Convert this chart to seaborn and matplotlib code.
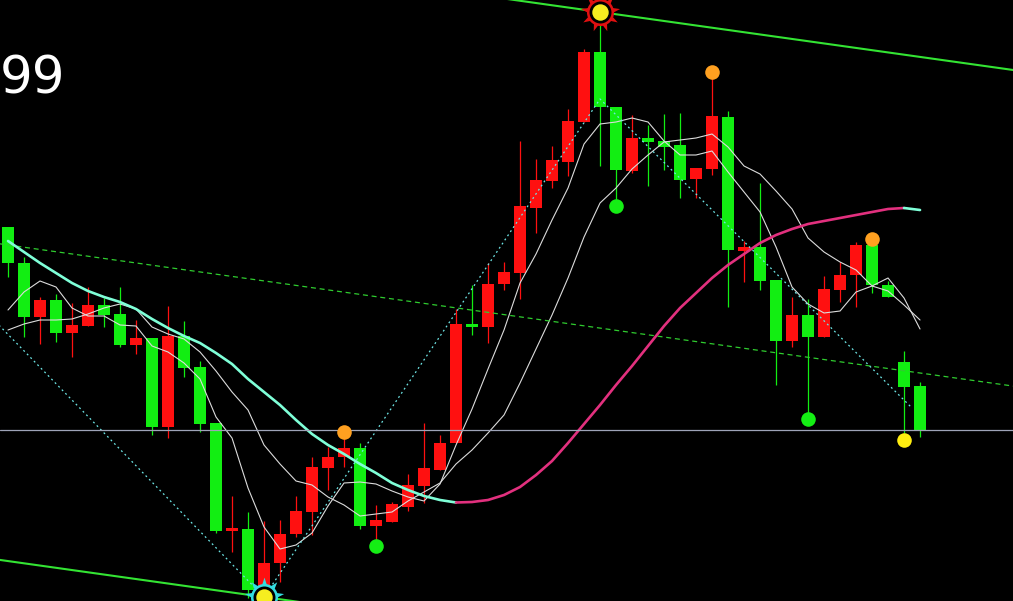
import matplotlib
matplotlib.use("Agg")
import matplotlib.pyplot as plt
import numpy as np
import pandas as pd
import seaborn as sns

# daily bars (price units), oldest first
opens = [37.3, 33.7, 28.3, 30.0, 26.7, 27.4, 29.5, 28.6, 25.5, 26.2,
         17.3, 26.4, 23.3, 17.7, 6.9, 7.1, 0.7, 3.7, 6.6, 8.8,
         13.2, 14.3, 15.2, 7.4, 7.8, 9.3, 11.4, 13.0, 15.7, 27.6,
         27.3, 31.6, 32.7, 39.2, 41.9, 43.8, 47.8, 54.8, 49.3, 42.9,
         46.2, 45.9, 45.5, 42.1, 43.1, 48.3, 34.9, 35.3, 32.0, 25.9,
         28.5, 26.3, 31.0, 32.5, 35.5, 31.5, 23.8, 21.4]
highs = [37.3, 34.3, 30.3, 30.6, 29.7, 31.3, 30.2, 31.3, 28.0, 26.2,
         29.4, 27.9, 23.9, 17.7, 10.4, 8.8, 7.9, 8.0, 10.4, 14.3,
         15.3, 16.2, 15.7, 9.5, 9.8, 12.6, 17.7, 16.5, 29.1, 31.5,
         33.7, 33.8, 45.9, 44.1, 45.4, 49.1, 55.1, 58.8, 49.3, 48.5,
         47.5, 48.6, 48.7, 43.2, 52.2, 48.9, 35.9, 41.7, 32.0, 30.3,
         30.1, 32.4, 33.8, 35.8, 35.5, 31.9, 24.9, 21.8]
lows = [32.3, 26.3, 25.6, 25.8, 24.3, 27.4, 27.3, 25.3, 24.6, 16.5,
        16.2, 22.3, 16.8, 6.7, 4.8, 0.2, 0.3, 1.8, 6.3, 6.5,
        11.0, 13.3, 7.1, 6.0, 7.8, 8.9, 9.7, 13.0, 15.7, 26.5,
        25.7, 31.0, 30.1, 36.7, 41.2, 42.4, 47.8, 43.4, 40.0, 42.7,
        41.4, 43.0, 40.2, 40.2, 42.5, 29.3, 31.8, 31.0, 21.5, 25.3,
        18.7, 26.3, 29.8, 29.3, 30.7, 30.3, 16.7, 16.3]
closes = [33.7, 28.3, 30.0, 26.7, 27.5, 29.5, 28.5, 25.5, 26.2, 17.3,
          26.4, 23.2, 17.6, 6.9, 7.1, 1.0, 3.7, 6.6, 8.9, 13.3,
          14.3, 15.2, 7.4, 8.0, 9.6, 11.5, 13.2, 15.7, 27.6, 27.3,
          31.6, 32.8, 39.4, 42.0, 44.0, 47.9, 54.8, 49.3, 43.0, 46.2,
          45.8, 45.3, 42.0, 43.2, 48.4, 35.0, 35.3, 31.9, 25.9, 28.5,
          26.3, 31.1, 32.5, 35.5, 31.5, 30.3, 21.3, 17.0]

ma5 = [29.0, 30.8, 31.9, 31.3, 29.2, 28.4, 28.4, 27.5, 27.4, 25.4,
       24.8, 23.7, 22.1, 18.3, 16.2, 11.2, 7.3, 5.1, 5.5, 6.7,
       9.4, 11.7, 11.8, 11.6, 10.9, 10.3, 9.9, 11.6, 15.5, 19.1,
       23.1, 27.0, 31.7, 34.6, 38.0, 41.2, 45.6, 47.6, 47.8, 48.2,
       47.8, 45.9, 44.5, 44.5, 44.9, 42.8, 40.8, 38.8, 35.3, 31.3,
       29.6, 28.7, 28.9, 30.8, 31.4, 32.2, 30.2, 27.1]
ma10 = [27.0, 27.6, 28.0, 28.0, 28.1, 28.6, 29.2, 29.6, 29.1, 27.3,
        26.6, 26.1, 24.8, 22.9, 20.8, 19.0, 15.5, 13.6, 11.9, 11.5,
        10.3, 9.5, 8.4, 8.6, 8.8, 9.9, 10.8, 11.7, 13.6, 15.0,
        16.7, 18.5, 21.7, 25.1, 28.5, 32.2, 36.3, 39.7, 41.2, 43.1,
        44.5, 45.8, 46.0, 46.2, 46.6, 45.3, 43.4, 42.6, 40.9, 39.1,
        36.2, 34.8, 33.8, 33.0, 31.4, 30.9, 29.5, 28.0]
ma_long = [35.9, 34.8, 33.7, 32.7, 31.7, 30.9, 30.3, 29.8, 29.1, 28.1,
           27.2, 26.4, 25.7, 24.7, 23.6, 22.1, 20.8, 19.5, 18.0, 16.6,
           15.5, 14.6, 13.6, 12.7, 11.7, 11.0, 10.4, 10.0, 9.75, 9.8,
           10.0, 10.5, 11.3, 12.5, 13.9, 15.7, 17.6, 19.5, 21.5, 23.4,
           25.4, 27.4, 29.2, 30.7, 32.2, 33.5, 34.6, 35.7, 36.5, 37.1,
           37.6, 37.9, 38.2, 38.5, 38.8, 39.1, 39.2, 39.0]

orange_bars = [21, 44, 54]   # dot above the high
green_bars = [23, 38, 50]    # dot below the low
yellow_bars = [56]
top_pivot = 37
bottom_pivot = 16

ref_level = 17.0
channel_slope = -0.2246
zigzag_x = [-1, 16, 37, 56.5]
zigzag_y = [28.2, 0.3, 50.1, 19.2]

RED = "#ff1010"
GREEN = "#12ee12"

sns.set_style("dark", {"axes.facecolor": "black", "figure.facecolor": "black"})

fig = plt.figure(figsize=(10.13, 6.01), dpi=100)
ax = fig.add_axes([0, 0, 1, 1])
ax.set_facecolor("black")

idx = np.arange(len(opens))
o = np.array(opens)
c = np.array(closes)
cols = np.where(c >= o, RED, GREEN)

# candles
ax.vlines(idx, lows, highs, colors=cols, lw=0.9, zorder=2)
body = np.maximum(np.abs(c - o), 0.3)
ax.bar(idx, body, bottom=np.minimum(o, c), width=0.7, color=cols,
       linewidth=0, zorder=2.1)

# moving averages
df = pd.DataFrame({"bar": idx, "ma5": ma5, "ma10": ma10, "ma_long": ma_long})
sns.lineplot(data=df, x="bar", y="ma5", color="#dcdcdc", lw=0.8, ax=ax, zorder=3)
sns.lineplot(data=df, x="bar", y="ma10", color="#dcdcdc", lw=0.8, ax=ax, zorder=3)

# long average: cyan while falling, pink while rising
ml = np.array(ma_long)
rising = np.diff(ml) > 0
start = 0
for k in range(1, len(rising) + 1):
    if k == len(rising) or rising[k] != rising[start]:
        seg = df.iloc[start:k + 1]
        col = "#e2307e" if rising[start] else "#7fffd8"
        sns.lineplot(data=seg, x="bar", y="ma_long", color=col, lw=1.9,
                     ax=ax, zorder=3.2)
        start = k

# trend channel
xs = np.array([-1, 64])
upper = highs[top_pivot] + channel_slope * (xs - top_pivot)
lower = lows[bottom_pivot] + channel_slope * (xs - bottom_pivot)
ax.plot(xs, upper, color="#33e433", lw=1.5, zorder=3)
ax.plot(xs, lower, color="#33e433", lw=1.5, zorder=3)
ax.plot(xs, (upper + lower) / 2, color="#2fcc2f", lw=0.9,
        ls=(0, (4, 3)), zorder=3)

# zigzag
ax.plot(zigzag_x, zigzag_y, color="#6ee6e6", lw=0.9, ls=(0, (1.5, 2.5)), zorder=3)

ax.axhline(ref_level, color="#9ea4b8", lw=0.9, zorder=4)

# signal dots
hi = np.array(highs)
lo = np.array(lows)
sns.scatterplot(x=orange_bars, y=hi[orange_bars] + 0.65, color="#ffa020",
                s=110, linewidth=0, ax=ax, zorder=5)
sns.scatterplot(x=green_bars, y=lo[green_bars] - 0.6, color="#14ee14",
                s=110, linewidth=0, ax=ax, zorder=5)
sns.scatterplot(x=yellow_bars, y=lo[yellow_bars] - 0.7, color="#ffee10",
                s=110, linewidth=0, ax=ax, zorder=5)

# pivot suns
for bar, price, ray in [(top_pivot, highs[top_pivot], "#e01010"),
                        (bottom_pivot, lows[bottom_pivot], "#33dde0")]:
    ax.scatter([bar], [price], marker=(9, 1, 0), s=820, color=ray,
               linewidth=0, zorder=6)
    ax.scatter([bar], [price], marker="o", s=380, color=ray,
               linewidth=0, zorder=6.05)
    ax.scatter([bar], [price], marker="o", s=250, color="black",
               linewidth=0, zorder=6.1)
    ax.scatter([bar], [price], marker="o", s=140, color="#f6ee20",
               linewidth=0, zorder=6.2)

ax.set_xlim(-0.5, 62.81)
ax.set_ylim(-0.1, 60)
ax.axis("off")
if ax.get_legend():
    ax.get_legend().remove()

fig.text(0.0, (601 - 93) / 601, "99", color="white", fontsize=37,
         ha="left", va="baseline", family="DejaVu Sans")

fig.savefig("out.png", dpi=100, facecolor="black")
